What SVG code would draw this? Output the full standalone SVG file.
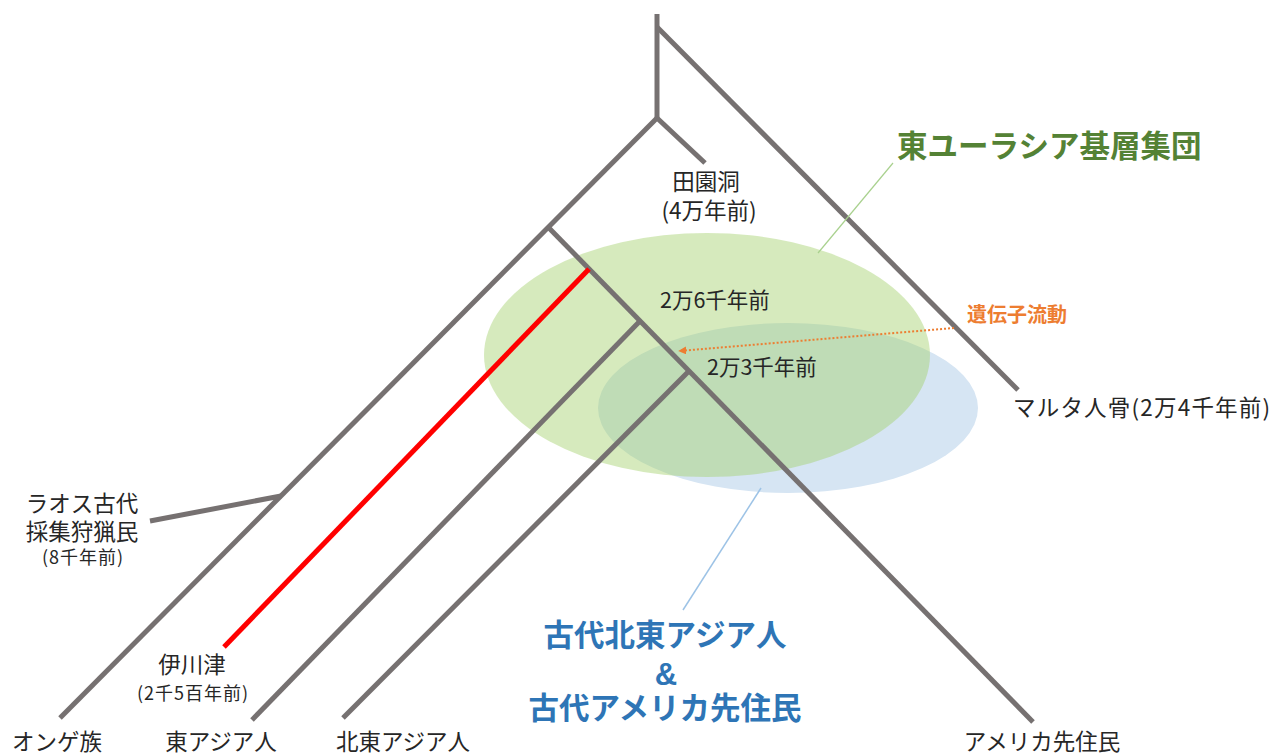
<svg xmlns="http://www.w3.org/2000/svg" width="1288" height="754" viewBox="0 0 1288 754">
<style>
.t{font-family:"Noto Sans CJK JP","Noto Sans",sans-serif;fill:#262626;font-size:22.5px}
.d{font-size:21.5px}
.s{font-size:18px;letter-spacing:1px}
.m{text-anchor:middle}
.br{stroke:#767171;stroke-width:5;fill:none;stroke-linecap:butt}
.bt{font-family:"Noto Sans CJK JP","Noto Sans",sans-serif;font-weight:bold;font-size:30.5px}
.amp{font-family:"Liberation Sans",Arial,sans-serif;font-weight:bold;font-size:31px;fill:#2e75b6}
</style>
<defs>
<marker id="ah" viewBox="0 0 10 10" refX="9" refY="5" markerWidth="4" markerHeight="4" orient="auto-start-reverse" markerUnits="strokeWidth">
<path d="M0,0 L10,5 L0,10 z" fill="#ed7d31"/>
</marker>
</defs>
<rect width="1288" height="754" fill="#ffffff"/>
<g id="regions">
<ellipse id="blue-region" cx="788" cy="408" rx="190" ry="85" fill="#d6e5f3"/>
<ellipse id="green-region" cx="707" cy="355" rx="223" ry="122" fill="#a3d16c" fill-opacity="0.45"/>
</g>
<g id="connectors">
<path class="br" d="M657,14 V118"/>
<path class="br" d="M657,27 L1018,390"/>
<path class="br" d="M657,118 L60,718"/>
<path class="br" d="M657,118 L705,163"/>
<path class="br" d="M548,227 L1033,722"/>
<path class="br" d="M640,321 L252,720"/>
<path class="br" d="M689,371 L343,718"/>
<path class="br" d="M281,496 L150,521"/>
<path d="M589,269 L224,647" stroke="#ff0000" stroke-width="5" fill="none"/>
<path d="M818,253 L893,163" stroke="#a9d18e" stroke-width="1.2" fill="none"/>
<path d="M761,488 L683,610" stroke="#9dc3e6" stroke-width="1.5" fill="none"/>
<path d="M954,328 L679,351" stroke="#ed7d31" stroke-width="2" stroke-dasharray="2 2" fill="none" marker-end="url(#ah)"/>
</g>
<g id="node-tianyuan"><text class="t m"><tspan x="706" y="190">田園洞</tspan><tspan x="709" y="219">(4万年前)</tspan></text></g>
<g id="node-26k"><text class="t d" x="660" y="308">2万6千年前</text></g>
<g id="node-23k"><text class="t d" x="707" y="375">2万3千年前</text></g>
<g id="node-malta"><text class="t" x="1013" y="416" style="letter-spacing:1.2px">マルタ人骨(2万4千年前)</text></g>
<g id="node-geneflow"><text class="bt" x="967" y="322" style="font-size:20px;fill:#ed7d31">遺伝子流動</text></g>
<g id="node-east-eurasian"><text class="bt" x="897" y="157" style="fill:#548235">東ユーラシア基層集団</text></g>
<g id="node-laos"><text class="t m"><tspan x="82" y="512">ラオス古代</tspan><tspan x="82" y="540">採集狩猟民</tspan><tspan class="s" x="83" y="564">(8千年前)</tspan></text></g>
<g id="node-ikawazu"><text class="t m"><tspan x="192" y="673">伊川津</tspan><tspan class="s" x="193" y="700">(2千5百年前)</tspan></text></g>
<g id="node-onge"><text class="t m" x="57" y="750">オンゲ族</text></g>
<g id="node-east-asian"><text class="t m" x="221" y="750">東アジア人</text></g>
<g id="node-ne-asian"><text class="t m" x="403" y="750">北東アジア人</text></g>
<g id="node-native-american"><text class="t m" x="1042" y="750">アメリカ先住民</text></g>
<g id="node-ancient-ne"><text class="bt m" x="665" y="646" style="fill:#2e75b6">古代北東アジア人</text><text class="amp m" x="666" y="685">&amp;</text><text class="bt m" x="665" y="719" style="fill:#2e75b6">古代アメリカ先住民</text></g>
</svg>
